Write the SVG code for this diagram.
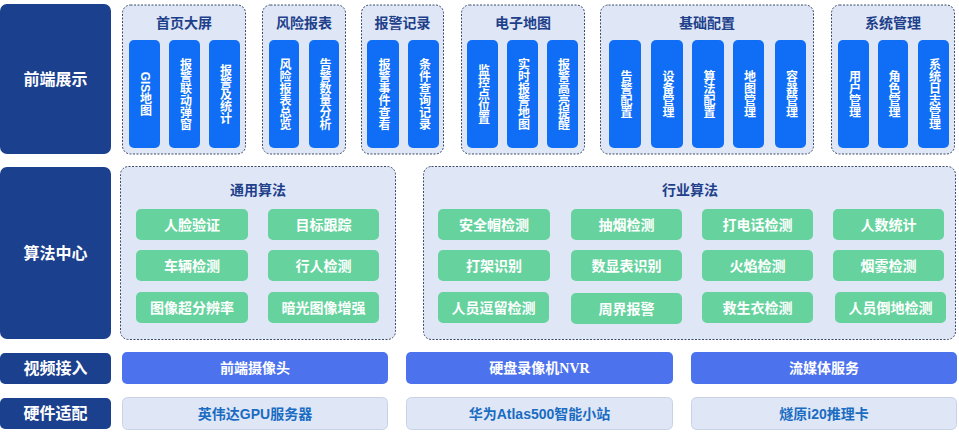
<svg xmlns="http://www.w3.org/2000/svg" width="959" height="434" viewBox="0 0 959 434">
<style>
text{font-family:"Liberation Sans","Noto Sans CJK SC",sans-serif;font-weight:bold}
.lab{fill:#1b408e}
.labt{fill:#fff;font-size:16px;text-anchor:middle;dominant-baseline:central}
.grp{fill:#dfe7f7;stroke:#3b4a6a;stroke-width:1;stroke-dasharray:2 1.5}
.gt{fill:#1e3f8a;font-size:14px;text-anchor:middle;dominant-baseline:central}
.bar{fill:#0f6ef5}
.vt{fill:#fff;font-size:12px;writing-mode:vertical-rl;text-anchor:middle;dominant-baseline:central}
.gr{fill:#66d39e}
.grt{fill:#fff;font-size:14px;text-anchor:middle;dominant-baseline:central}
.vb{fill:#4d72ee}
.vbt{fill:#fff;font-size:14px;text-anchor:middle;dominant-baseline:central}
.hw{fill:#dfe7f7;stroke:#c9d3e6;stroke-width:1}
.hwt{fill:#1a6cc2;font-size:14px;text-anchor:middle;dominant-baseline:central}
</style>
<rect width="959" height="434" fill="#fff"/>
<g id="connectors"/>

<g id="lab-frontend"><rect class="lab" x="0" y="4" width="111" height="150" rx="7"/><text class="labt" x="55.5" y="79">前端展示</text></g>

<g id="g-home">
<rect class="grp" x="122.5" y="5" width="123" height="149" rx="8"/>
<text class="gt" x="184" y="23">首页大屏</text>
<rect class="bar" x="129" y="40" width="31" height="108" rx="5"/><text class="vt" x="144.5" y="94">GIS地图</text>
<rect class="bar" x="169" y="40" width="31" height="108" rx="5"/><text class="vt" x="184.5" y="94">报警联动弹窗</text>
<rect class="bar" x="209" y="40" width="31" height="108" rx="5"/><text class="vt" x="224.5" y="94">报警及统计</text>
</g>

<g id="g-risk">
<rect class="grp" x="262.5" y="5" width="83" height="149" rx="8"/>
<text class="gt" x="304" y="23">风险报表</text>
<rect class="bar" x="269" y="40" width="30" height="108" rx="5"/><text class="vt" x="284" y="94">风险报表总览</text>
<rect class="bar" x="309" y="40" width="30" height="108" rx="5"/><text class="vt" x="324" y="94">告警数量分析</text>
</g>

<g id="g-alarm">
<rect class="grp" x="361.5" y="5" width="82" height="149" rx="8"/>
<text class="gt" x="402.5" y="23">报警记录</text>
<rect class="bar" x="367" y="40" width="32" height="108" rx="5"/><text class="vt" x="383" y="94">报警事件查看</text>
<rect class="bar" x="408" y="40" width="31" height="108" rx="5"/><text class="vt" x="423.5" y="94">条件查询记录</text>
</g>

<g id="g-map">
<rect class="grp" x="461.5" y="5" width="123" height="149" rx="8"/>
<text class="gt" x="523" y="23">电子地图</text>
<rect class="bar" x="467" y="40" width="31" height="108" rx="5"/><text class="vt" x="482.5" y="94">监控点位置</text>
<rect class="bar" x="507" y="40" width="31" height="108" rx="5"/><text class="vt" x="522.5" y="94">实时报警地图</text>
<rect class="bar" x="547" y="40" width="31" height="108" rx="5"/><text class="vt" x="562.5" y="94">报警高亮提醒</text>
</g>

<g id="g-config">
<rect class="grp" x="600.5" y="5" width="213" height="149" rx="8"/>
<text class="gt" x="707" y="23">基础配置</text>
<rect class="bar" x="609" y="40" width="32" height="108" rx="5"/><text class="vt" x="625" y="94">告警配置</text>
<rect class="bar" x="651" y="40" width="32" height="108" rx="5"/><text class="vt" x="667" y="94">设备管理</text>
<rect class="bar" x="692" y="40" width="32" height="108" rx="5"/><text class="vt" x="708" y="94">算法配置</text>
<rect class="bar" x="733" y="40" width="31" height="108" rx="5"/><text class="vt" x="748.5" y="94">地图管理</text>
<rect class="bar" x="775" y="40" width="31" height="108" rx="5"/><text class="vt" x="790.5" y="94">容器管理</text>
</g>

<g id="g-system">
<rect class="grp" x="831.5" y="5" width="123" height="149" rx="8"/>
<text class="gt" x="893" y="23">系统管理</text>
<rect class="bar" x="838" y="40" width="31" height="108" rx="5"/><text class="vt" x="853.5" y="94">用户管理</text>
<rect class="bar" x="878" y="40" width="30" height="108" rx="5"/><text class="vt" x="893" y="94">角色管理</text>
<rect class="bar" x="918" y="40" width="31" height="108" rx="5"/><text class="vt" x="933.5" y="94">系统日志管理</text>
</g>

<g id="lab-algo"><rect class="lab" x="0" y="167" width="111" height="172" rx="7"/><text class="labt" x="55.5" y="253">算法中心</text></g>

<g id="g-general">
<rect class="grp" x="120.5" y="166.5" width="275" height="173" rx="8"/>
<text class="gt" x="258" y="190">通用算法</text>
<rect class="gr" x="136" y="209" width="112" height="31" rx="5"/><text class="grt" x="192" y="224.5">人脸验证</text>
<rect class="gr" x="268" y="209" width="111" height="31" rx="5"/><text class="grt" x="323.5" y="224.5">目标跟踪</text>
<rect class="gr" x="136" y="250" width="112" height="31" rx="5"/><text class="grt" x="192" y="265.5">车辆检测</text>
<rect class="gr" x="268" y="250" width="111" height="31" rx="5"/><text class="grt" x="323.5" y="265.5">行人检测</text>
<rect class="gr" x="136" y="292" width="112" height="31" rx="5"/><text class="grt" x="192" y="307.5">图像超分辨率</text>
<rect class="gr" x="268" y="292" width="111" height="31" rx="5"/><text class="grt" x="323.5" y="307.5">暗光图像增强</text>
</g>

<g id="g-industry">
<rect class="grp" x="423.5" y="166.5" width="532" height="173" rx="8"/>
<text class="gt" x="690" y="190">行业算法</text>
<rect class="gr" x="438" y="209" width="112" height="31" rx="5"/><text class="grt" x="494" y="224.5">安全帽检测</text>
<rect class="gr" x="571" y="209" width="111" height="31" rx="5"/><text class="grt" x="626.5" y="224.5">抽烟检测</text>
<rect class="gr" x="702" y="209" width="111" height="31" rx="5"/><text class="grt" x="757.5" y="224.5">打电话检测</text>
<rect class="gr" x="833" y="209" width="111" height="31" rx="5"/><text class="grt" x="888.5" y="224.5">人数统计</text>
<rect class="gr" x="438" y="250" width="112" height="31" rx="5"/><text class="grt" x="494" y="265.5">打架识别</text>
<rect class="gr" x="571" y="250" width="111" height="31" rx="5"/><text class="grt" x="626.5" y="265.5">数显表识别</text>
<rect class="gr" x="702" y="250" width="111" height="31" rx="5"/><text class="grt" x="757.5" y="265.5">火焰检测</text>
<rect class="gr" x="833" y="250" width="111" height="31" rx="5"/><text class="grt" x="888.5" y="265.5">烟雾检测</text>
<rect class="gr" x="438" y="292" width="111" height="31" rx="5"/><text class="grt" x="493.5" y="307.5">人员逗留检测</text>
<rect class="gr" x="571" y="293" width="111" height="31" rx="5"/><text class="grt" x="626.5" y="308.5">周界报警</text>
<rect class="gr" x="702" y="292" width="111" height="31" rx="5"/><text class="grt" x="757.5" y="307.5">救生衣检测</text>
<rect class="gr" x="835" y="292" width="111" height="31" rx="5"/><text class="grt" x="890.5" y="307.5">人员倒地检测</text>
</g>

<g id="lab-video"><rect class="lab" x="0" y="353" width="111" height="31" rx="5"/><text class="labt" x="55.5" y="368.5">视频接入</text></g>
<g id="v-camera"><rect class="vb" x="122" y="352" width="266" height="32" rx="5"/><text class="vbt" x="255" y="368">前端摄像头</text></g>
<g id="v-nvr"><rect class="vb" x="406" y="352" width="267" height="32" rx="5"/><text class="vbt" x="539.5" y="368">硬盘录像机<tspan font-family="'Liberation Serif',serif">NVR</tspan></text></g>
<g id="v-stream"><rect class="vb" x="691" y="352" width="266" height="32" rx="5"/><text class="vbt" x="824" y="368">流媒体服务</text></g>

<g id="lab-hw"><rect class="lab" x="0" y="398" width="111" height="31" rx="5"/><text class="labt" x="55.5" y="413.5">硬件适配</text></g>
<g id="h-gpu"><rect class="hw" x="122.5" y="397.5" width="265" height="32" rx="5"/><text class="hwt" x="255" y="413.5">英伟达GPU服务器</text></g>
<g id="h-atlas"><rect class="hw" x="406.5" y="397.5" width="266" height="32" rx="5"/><text class="hwt" x="539.5" y="413.5">华为Atlas500智能小站</text></g>
<g id="h-i20"><rect class="hw" x="691.5" y="397.5" width="265" height="32" rx="5"/><text class="hwt" x="824" y="413.5">燧原i20推理卡</text></g>
</svg>
